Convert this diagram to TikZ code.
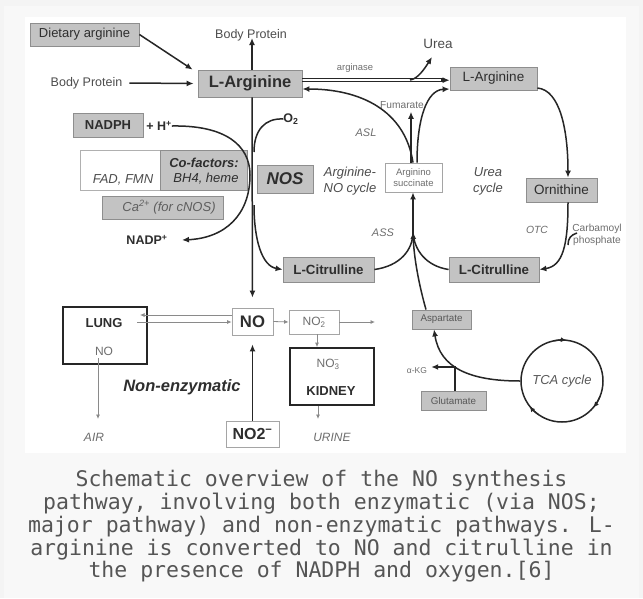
\documentclass[tikz,border=0pt]{standalone}
\usepackage{fontspec}
\setmainfont{Liberation Sans}
\newfontfamily\capfont{DejaVu Sans Mono}
\usetikzlibrary{arrows.meta,calc}
\definecolor{bgc}{HTML}{F4F4F4}
\definecolor{framec}{HTML}{F8F8F8}
\definecolor{boxfill}{HTML}{C3C3C3}
\definecolor{boxline}{HTML}{8E8E8E}
\definecolor{txt}{HTML}{2E2E2E}
\definecolor{lab}{HTML}{6E6E6E}
\definecolor{dark}{HTML}{262626}
\definecolor{thinc}{HTML}{8A8A8A}
\definecolor{capc}{HTML}{555555}
\newcommand\fsz[2]{\fontsize{#1}{#2}\selectfont}
\begin{document}
\begin{tikzpicture}[x=1pt,y=-1pt,
  gbox/.style={draw=boxline,fill=boxfill,text=txt,inner sep=0pt,line width=0.8pt},
  wbox/.style={draw=boxline!80,fill=white,text=txt,inner sep=0pt,line width=0.8pt},
  tbox/.style={draw=dark,fill=white,inner sep=0pt,line width=1.8pt},
  lbl/.style={text=lab,inner sep=0pt},
  tx/.style={text=txt,inner sep=0pt},
  arr/.style={draw=dark,line width=1.5pt,-{Latex[length=7pt,width=6pt]}},
  ln/.style={draw=dark,line width=1.5pt},
  tarr/.style={draw=thinc,line width=0.8pt,-{Latex[length=4.5pt,width=4pt]}},
  tln/.style={draw=thinc,line width=0.8pt}]
\useasboundingbox (0,0) rectangle (643,598);
\fill[bgc] (0,0) rectangle (643,598);
\fill[framec] (4,6) rectangle (639,598);
\fill[white] (25,17) rectangle (626,453);

% ---- boxes
\node[gbox,minimum width=109,minimum height=23] (diet) at (84.5,34.5) {\fsz{13}{15}Dietary arginine};
\node[gbox,minimum width=104,minimum height=27] (larg) at (250,83.5) {\fsz{16.5}{18}\bfseries L-Arginine};
\node[gbox,minimum width=70,minimum height=24] (nadph) at (108,125) {\fsz{13}{15}\bfseries NADPH};
\node[wbox,draw=boxline!70,minimum width=80,minimum height=40] (cofw) at (120,170) {};
\node[gbox,minimum width=87,minimum height=40] (cofg) at (203.5,170) {};
\node[gbox,minimum width=56,minimum height=28] (nos) at (285,179) {\fsz{17}{19}\bfseries\itshape NOS};
\node[gbox,minimum width=121,minimum height=23] (ca) at (162.5,207.5) {};
\node[gbox,minimum width=91,minimum height=25] (citL) at (328.5,269.5) {\fsz{13.3}{15}\bfseries L-Citrulline};
\node[wbox,minimum width=57,minimum height=29,align=center,text=lab,font=\fsz{9.5}{11}] (succ) at (413.5,177.5) {Arginino\\succinate};
\node[gbox,minimum width=87,minimum height=23] (argR) at (493.5,78.5) {\fsz{13.5}{15}L-Arginine};
\node[gbox,minimum width=71,minimum height=24] (orn) at (561.5,190) {\fsz{13.5}{15}Ornithine};
\node[gbox,minimum width=90,minimum height=25] (citR) at (494,269.5) {\fsz{13.3}{15}\bfseries L-Citrulline};
\node[gbox,minimum width=59,minimum height=19,text=lab!80!black] (asp) at (441.5,319.5) {\fsz{9.8}{11}Aspartate};
\node[gbox,minimum width=65,minimum height=19,text=lab!80!black] (glu) at (453.5,400.5) {\fsz{9.8}{11}Glutamate};
\node[draw=dark,line width=1.5pt,circle,minimum size=82,inner sep=0pt,text=lab!80!black] (tca) at (562,381) {\fsz{13}{15}\itshape TCA cycle};
\node[tbox,minimum width=84,minimum height=57] (lung) at (105,335.5) {};
\node[wbox,minimum width=41,minimum height=27] (no) at (252.5,321.5) {\fsz{16.7}{18}\bfseries NO};
\node[wbox,minimum width=50,minimum height=24,text=lab] (no2s) at (314,322) {\fsz{12}{14}NO\textsubscript{2}\kern-0.45em\textsuperscript{−}};
\node[tbox,minimum width=84,minimum height=57] (kid) at (332,376.5) {};
\node[wbox,minimum width=53,minimum height=26] (no2b) at (252.5,434) {\fsz{16}{18}\bfseries NO2\textsuperscript{−}};

% ---- texts
\node[tx,text=txt!85] (bpt) at (251,35) {\fsz{12.5}{14}Body Protein};
\node[tx,text=txt!85] (bpl) at (86.5,83) {\fsz{12.5}{14}Body Protein};
\node[tx] (hplus) at (159,126) {\fsz{12.5}{14}\bfseries + H\textsuperscript{+}};
\node[tx] (o2) at (291,119) {\fsz{12.5}{14}\bfseries O\textsubscript{2}};
\node[tx,text=txt!85] at (123,180) {\fsz{13}{15}\itshape FAD, FMN};
\node[tx] at (204,163) {\fsz{13}{15}\bfseries\itshape Co-factors:};
\node[tx] at (206,179) {\fsz{13}{15}\itshape BH4, heme};
\node[tx,text=lab!85!black] at (169,207) {\fsz{13}{15}\itshape Ca\textsuperscript{2+} (for cNOS)};
\node[tx] (nadpp) at (147,240) {\fsz{12.5}{14}\bfseries NADP\textsuperscript{+}};
\node[tx,align=center,text=txt!85,font=\fsz{13}{16.5}\itshape] at (350,181) {Arginine-\\NO cycle};
\node[tx,align=center,text=txt!85,font=\fsz{13}{16.5}\itshape] at (488,181.5) {Urea\\cycle};
\node[tx,text=txt!85] (urea) at (438,44) {\fsz{13.5}{15}Urea};
\node[lbl] at (355,68) {\fsz{9.4}{11}arginase};
\node[lbl] (fum) at (402,105) {\fsz{10.2}{12}Fumarate};
\node[lbl] at (366,133) {\fsz{11}{12}\itshape ASL};
\node[lbl] at (383,233) {\fsz{11}{12}\itshape ASS};
\node[lbl] at (537,230) {\fsz{10.4}{12}\itshape OTC};
\node[lbl,align=center,font=\fsz{10.2}{12}] (carb) at (597,235) {Carbamoyl\\phosphate};
\node[lbl] (akg) at (417,371) {\fsz{8.5}{10}α-KG};
\node[tx] at (104,323) {\fsz{13}{15}\bfseries LUNG};
\node[lbl] (lno) at (104,351) {\fsz{12}{14}NO};
\node[lbl] (air) at (94,437) {\fsz{12}{14}\itshape AIR};
\node[lbl] at (328,364) {\fsz{12}{14}NO\textsubscript{3}\kern-0.45em\textsuperscript{−}};
\node[tx] at (331,391) {\fsz{13}{15}\bfseries KIDNEY};
\node[lbl] (urine) at (332,437) {\fsz{12}{14}\itshape URINE};
\node[tx] at (182,387) {\fsz{16.5}{18}\bfseries\itshape Non-enzymatic};

% ---- coordinates
\coordinate (vx) at (252,0);
\coordinate (nadpT) at (182,240);
\coordinate (ureaT) at (432,57);
\coordinate (jn) at (413,232);
\coordinate (l1) at (140,315);
\coordinate (l2) at (137,322);
\coordinate (airT) at (98,419);
\coordinate (airS) at (98,358);
\coordinate (no2R) at (375,322);
\coordinate (urT) at (318,419);

% ---- thick connectors
\draw[arr] (diet.east) -- ($(larg.north west)+(-5,0)$);
\draw[arr] ([xshift=7pt]bpl.east) -- ([xshift=-4pt]larg.west);
\draw[arr] (larg.north -| vx) -- ([yshift=3pt]bpt.south -| vx);
\draw[arr,shorten >=10pt] (larg.south -| vx) -- (no.north);
\draw[arr] (hplus.east) .. controls (225,125) and (250,145) .. (250,175) .. controls (250,215) and (225,238) .. (nadpT);
\draw[ln] (o2.west) .. controls (265,118) and (254,130) .. (254,152);
\draw[arr] (254,205) .. controls (254,240) and (262,266) .. (citL.west);
% arginase double line
\draw[line width=0.9pt,draw=dark] (larg.east |- 0,78.8) -- (443,78.8);
\draw[line width=0.9pt,draw=dark] (larg.east |- 0,81.6) -- (443,81.6);
\draw[arr] (441,80.2) -- (argR.west |- 0,80.2);
\draw[arr] (410,80) .. controls (418,79) and (425,68) .. (ureaT);
\draw[arr] (succ.north -| 413,0) .. controls (405,110) and (360,89) .. (larg.east |- 0,89);
\draw[arr] (succ.north -| 417,0) .. controls (417,118) and (427,90) .. (argR.west |- 0,89);
\draw[arr] (succ.north -| 411,0) -- ([yshift=-3pt]fum.south -| 411,0);
\draw[arr] (argR.east |- 0,88) .. controls (560,90) and (568,130) .. (orn.north -| 568,0);
\draw[arr] (orn.south -| 568,0) .. controls (568,245) and (563,266) .. (citR.east);
\draw[ln] (577,233) .. controls (571,235) and (568,238) .. (568,245);
\draw[ln] (citL.east) .. controls (400,266) and (413,250) .. (jn);
\draw[ln] (citR.west) .. controls (426,266) and (414,250) .. (jn);
\draw[arr] (jn) -- (succ.south -| jn);
\draw[arr] (asp.north -| 426,0) .. controls (419,285) and (414,258) .. (jn);
\draw[arr] (tca.west) .. controls (470,381) and (440,368) .. (asp.south -| 434,0);
\draw[arr] (glu.north -| 455,0) -- (455,367) -- ([xshift=4pt]akg.east |- 0,367);
\draw[arr,line width=1.3pt,-{Latex[length=5.5pt,width=5pt]}] (553.5,340.9) arc[start angle=258, end angle=276, radius=41];
\draw[arr,line width=1.3pt,-{Latex[length=5.5pt,width=5pt]}] (600,396.4) arc[start angle=22, end angle=40, radius=41];
\draw[arr,line width=1.3pt,-{Latex[length=5.5pt,width=5pt]}] (538.5,414.6) arc[start angle=125, end angle=142, radius=41];
\draw[arr,shorten >=9pt] (no2b.north) -- (no.south);

% ---- thin connectors
\draw[tarr] (no.west |- l1) -- (l1);
\draw[tarr] (l2) -- (no.west |- l2);
\draw[tarr] (airS) -- (airT);
\draw[tarr] (no.east) -- (no2s.west);
\draw[tarr] (no2s.east) -- (no2R);
\draw[tarr] (no2s.south -| 317,0) -- (kid.north -| 317,0);
\draw[tarr] (kid.south -| urT) -- (urT);

% ---- caption
\node[text=capc,align=center,inner sep=0pt,font=\capfont\fsz{21.5}{22.75}] (cap) at (321.5,526.5) {Schematic overview of the NO synthesis\\pathway, involving both enzymatic (via NOS;\\major pathway) and non-enzymatic pathways. L-\\arginine is converted to NO and citrulline in\\the presence of NADPH and oxygen.[6]};
\end{tikzpicture}
\end{document}
